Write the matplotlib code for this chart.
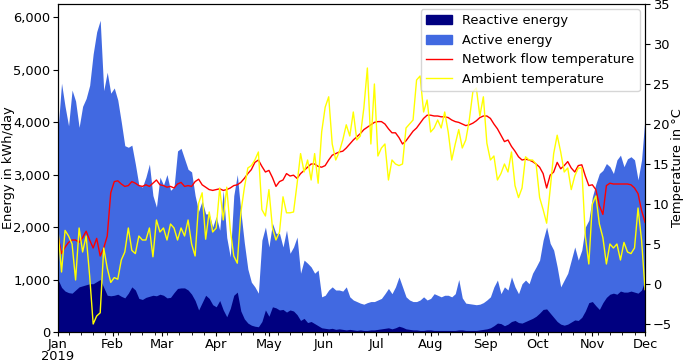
import numpy as np
import pandas as pd
import matplotlib
matplotlib.use("Agg")
import matplotlib.pyplot as plt
import matplotlib.dates as mdates
import matplotlib.patches as mpatches
from matplotlib.lines import Line2D
from matplotlib.ticker import FuncFormatter

# one value every second day, 1 Jan 2019 .. 1 Dec 2019
dates = pd.date_range("2019-01-01", "2019-12-01", freq="2D")

active_kwh = [
    3850, 4740, 4300, 3930, 4610, 4400, 3900, 4300, 4450, 4700,
    5300, 5720, 5940, 4600, 4950, 4550, 4650, 4420, 4000, 3550,
    3520, 3560, 3200, 2800, 2760, 2950, 3200, 2600, 2380, 2950,
    2800, 3000, 2700, 2760, 3450, 3500, 3300, 3100, 3050, 2600,
    2300, 2500, 2250, 2250, 2000, 2200, 1940, 2700, 1800, 1430,
    2600, 3000, 2300, 1700, 1200, 950, 860, 740, 1750, 2000,
    1620, 2070, 1880, 1880, 1620, 1940, 1500, 1620, 1810, 1120,
    1370, 1310, 1240, 1120, 1180, 670, 700, 800, 860, 800,
    800, 780, 860, 670, 610, 580, 550, 530, 560, 580,
    580, 610, 640, 730, 830, 730, 860, 1050, 860, 670,
    610, 580, 580, 610, 670, 610, 640, 730, 700, 670,
    700, 700, 670, 730, 1000, 650, 550, 540, 530, 520,
    530, 560, 610, 670, 860, 990, 730, 860, 800, 1050,
    860, 730, 920, 990, 920, 1120, 1240, 1370, 1750, 2000,
    1690, 1560, 1240, 860, 990, 1120, 1370, 1620, 1370, 1560,
    2000, 2130, 2570, 2820, 3020, 3080, 3210, 3150, 3020, 3280,
    3370, 3150, 3300, 3340, 3280, 2900, 3280, 4100,
]

reactive_kwh = [
    1000, 850, 780, 750, 740, 800, 860, 880, 900, 920,
    920, 960, 1000, 850, 700, 690, 700, 720, 680, 650,
    740, 860, 800, 640, 620, 660, 680, 700, 690, 720,
    700, 650, 660, 750, 830, 840, 840, 800, 720, 600,
    420, 560, 700, 640, 520, 480, 600, 420, 290, 450,
    700, 760, 400, 250, 170, 130, 110, 100, 200, 420,
    300, 480, 460, 420, 430, 380, 420, 400, 330, 220,
    260, 180, 200, 160, 120, 80, 70, 60, 70, 50,
    60, 50, 40, 50, 40, 30, 40, 30, 30, 40,
    40, 50, 60, 70, 80, 60, 80, 110, 90, 60,
    50, 40, 40, 30, 30, 40, 40, 30, 30, 30,
    30, 30, 30, 30, 40, 40, 30, 30, 30, 30,
    40, 50, 60, 80, 120, 170, 160, 120, 150, 200,
    220, 180, 170, 200, 230, 260, 300, 360, 430, 440,
    360, 280, 200, 150, 130, 150, 190, 230, 220, 280,
    400, 560, 580, 500, 430, 560, 660, 720, 740, 720,
    780, 760, 760, 780, 760, 740, 800, 990,
]

flow_temp = [
    6.0, 3.8, 4.6, 5.2, 5.5, 5.5, 5.2, 5.8, 6.6, 5.5,
    4.5, 5.7, 3.5, 4.5, 6.0, 11.4, 12.8, 12.9, 12.5, 12.2,
    12.3, 12.8, 12.6, 12.3, 12.2, 12.4, 12.2, 12.6, 13.0, 12.4,
    12.3, 12.1, 12.2, 12.0, 12.5, 12.7, 12.2, 12.3, 12.2, 12.8,
    13.1, 12.4, 12.1, 11.8, 11.7, 11.8, 11.9, 11.7, 11.8, 12.0,
    12.3, 12.4, 12.7, 13.2, 13.8, 14.3, 15.2, 15.5, 14.7, 14.0,
    14.2, 13.3, 12.2, 12.8, 13.0, 13.8, 13.5, 13.6, 13.2, 13.8,
    14.2, 14.6, 15.0, 15.0, 14.7, 14.6, 14.8, 15.5, 16.1, 16.3,
    16.5, 16.6, 17.0, 17.5, 18.0, 18.4, 18.8, 19.3, 19.6, 19.9,
    20.2, 20.3, 20.3, 20.0, 19.4, 18.9, 18.9, 18.3, 17.5, 17.9,
    18.5, 19.1, 19.5, 20.1, 20.7, 21.1, 21.1, 21.0, 21.0, 20.9,
    20.9, 20.8, 20.5, 20.3, 20.2, 20.0, 19.8, 19.9, 20.1, 20.4,
    20.8, 21.0, 21.0, 20.7, 20.0, 19.4, 18.6, 17.8, 18.0, 17.2,
    16.6, 15.9, 15.5, 15.6, 15.5, 15.3, 15.0, 14.6, 13.8, 12.0,
    13.6, 14.0, 15.2, 14.4, 14.8, 15.3, 14.5, 14.0, 14.8, 14.9,
    13.5, 12.3, 12.4, 11.8, 9.8, 8.7, 12.3, 12.6, 12.5, 12.5,
    12.5, 12.5, 12.5, 12.4, 12.0, 11.3, 9.2, 7.7,
]

ambient_temp = [
    6.7, 1.5, 6.7, 6.0, 5.0, 0.5, 7.0, 4.0, 6.0, 1.0,
    -5.0, -4.0, -3.6, 4.5, 2.0, 0.2, 0.8, 0.6, 3.0, 4.0,
    7.0, 4.2, 3.8, 6.0, 5.5, 5.5, 7.0, 3.4, 8.0, 6.5,
    7.0, 5.5, 7.5, 7.0, 5.5, 7.0, 6.0, 8.0, 5.0, 3.5,
    10.1, 11.4, 5.6, 9.0, 6.5, 7.0, 12.0, 8.0, 12.1, 6.8,
    3.5, 2.6, 8.9, 12.0, 14.5, 14.8, 15.5, 16.5, 9.3, 8.5,
    11.8, 7.0, 5.5, 6.5, 10.9, 8.9, 8.9, 9.0, 12.5, 16.3,
    14.0, 15.5, 13.0, 16.3, 12.6, 19.0, 22.1, 23.4, 17.5, 15.5,
    16.5, 18.0, 19.9, 18.5, 21.5, 18.0, 18.5, 22.0, 27.0, 17.5,
    25.0, 16.0, 17.0, 17.5, 13.0, 15.5, 15.0, 14.8, 15.0, 19.5,
    20.0, 20.5, 25.5, 26.0, 21.5, 23.0, 19.0, 19.5, 20.5, 19.5,
    21.5, 19.0, 15.5, 17.5, 19.3, 17.0, 18.0, 20.5, 24.0, 24.5,
    21.0, 23.4, 17.6, 15.5, 16.0, 13.0, 13.8, 15.0, 14.0, 16.5,
    12.3, 10.8, 12.0, 15.9, 15.5, 15.5, 15.0, 10.8, 9.3, 7.6,
    11.8, 16.3, 18.6, 16.5, 14.0, 14.5, 11.8, 13.5, 14.5, 14.5,
    6.0, 2.5, 10.0, 11.0, 7.5, 5.8, 2.5, 5.0, 4.5, 5.0,
    3.0, 5.2, 4.0, 3.8, 4.5, 9.5, 5.5, -0.7,
]

plt.rcParams["font.size"] = 9.4

fig = plt.figure(figsize=(6.85, 3.63), dpi=100)
ax = fig.add_axes([0.0847, 0.0854, 0.857, 0.9036])
ax2 = ax.twinx()

ax.fill_between(dates, 0, active_kwh, color="royalblue", lw=0)
ax.fill_between(dates, 0, reactive_kwh, color="navy", lw=0)
ax2.plot(dates, flow_temp, color="red", lw=1)
ax2.plot(dates, ambient_temp, color="yellow", lw=1)

ax.set_xlim(pd.Timestamp("2019-01-01"), pd.Timestamp("2019-12-01"))
ax.set_ylim(0, 6250)
ax2.set_ylim(-6, 35)
ax2.set_yticks(range(-5, 36, 5))

ax.yaxis.set_major_formatter(FuncFormatter(lambda v, p: f"{v:,.0f}"))
ax.xaxis.set_major_locator(mdates.MonthLocator())
ax.xaxis.set_minor_locator(mdates.WeekdayLocator(byweekday=mdates.MO))


def month_fmt(v, p):
    d = mdates.num2date(v)
    s = d.strftime("%b")
    if d.month == 1:
        s += "\n2019"
    return s


ax.xaxis.set_major_formatter(FuncFormatter(month_fmt))
ax.tick_params(axis="x", which="major", length=3, pad=1)
ax.tick_params(axis="x", which="minor", length=2)
ax.tick_params(axis="y", pad=2)
ax2.tick_params(axis="y", pad=2)

ax.set_ylabel("Energy in kWh/day")
ax2.set_ylabel("Temperature in °C")
ax.yaxis.set_label_coords(-0.074, 0.5)
ax2.yaxis.set_label_coords(1.044, 0.5)

handles = [
    mpatches.Patch(color="navy", label="Reactive energy"),
    mpatches.Patch(color="royalblue", label="Active energy"),
    Line2D([], [], color="red", lw=1, label="Network flow temperature"),
    Line2D([], [], color="yellow", lw=1, label="Ambient temperature"),
]
ax2.legend(handles=handles, loc="upper right", borderaxespad=0.4)

fig.canvas.draw()
for lbl in ax.get_xticklabels():
    lbl.set_linespacing(0.95)

fig.savefig("out.png", dpi=100)
